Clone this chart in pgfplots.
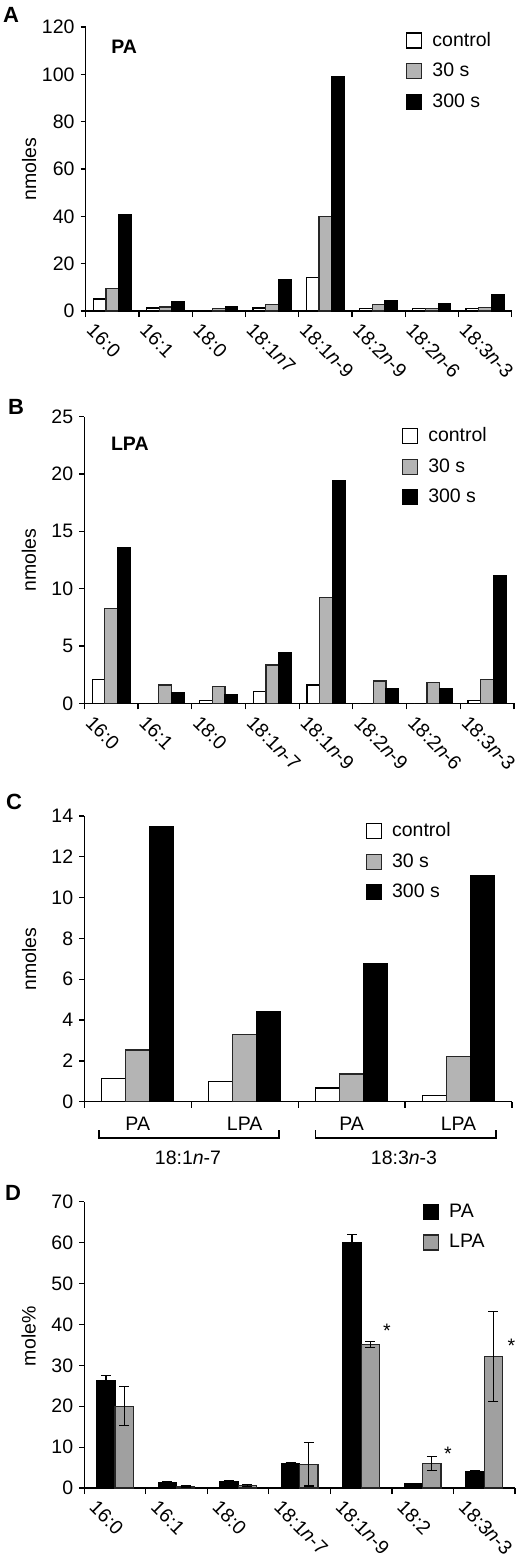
\documentclass[border=0pt]{standalone}
\usepackage{fontspec}
\setmainfont{Liberation Sans}
\usepackage{pgfplots}
\pgfplotsset{compat=1.18}
\definecolor{gA}{HTML}{B4B4B4}
\definecolor{gD}{HTML}{A0A0A0}
\newcommand{\fs}{\fontsize{19.5}{22}\selectfont}
\pgfplotsset{
  common/.style={
    scale only axis, anchor=south west,
    font=\fs,
    tick label style={font=\fs},
    label style={font=\fs},
    axis x line*=bottom, axis y line*=left,
    ybar=0pt, ymin=0,
    tick align=outside,
    major tick length=5pt, minor tick length=6pt,
    major x tick style={draw=none},
    every tick/.style={black, line width=1.2pt},
    minor tick style={black, line width=1.2pt},
    axis line style={black, line width=1.4pt},
    /pgf/number format/assume math mode=true,
    clip=false,
    yticklabel style={inner sep=2pt, xshift=-4pt},
    legend cell align=left,
    legend style={draw=none, fill=none, anchor=north west, inner sep=0pt, row sep=10pt,
      font=\fs, /tikz/every odd column/.append style={column sep=8pt}},
    legend image code/.code={\draw[##1, line width=1.2pt] (0pt,-7.5pt) rectangle (15pt,7.5pt);},
    rotlabels/.style={xticklabel style={xshift=-17pt, yshift=-6pt, rotate=-45, anchor=north west, inner sep=0pt}},
  },
  bw/.style={fill=white, draw=black, line width=1.2pt},
  bg/.style={fill=gA, draw=black!85, line width=1.2pt},
  bk/.style={fill=black, draw=black, line width=1.2pt},
}
\begin{document}
\fs
\begin{tikzpicture}
\path[use as bounding box] (0pt,0pt) rectangle (531pt,-1559pt);
% ---------------- A ----------------
\begin{axis}[common, rotlabels, at={(85.7pt,-311pt)}, width=426pt, height=284pt,
  ymax=120, ytick={0,20,...,120},
  xmin=-0.5, xmax=7.5, xtick={0,...,7}, minor xtick={-0.5,0.5,...,7.5},
  xticklabels={16:0,16:1,18:0,18:1\textit{n}7,18:1\textit{n}-9,18:2\textit{n}-9,18:2\textit{n}-6,18:3\textit{n}-3},
  bar width=12.7pt,
  ylabel={nmoles}, ylabel style={at={(axis description cs:-0.133,0.5)}, anchor=center},
  legend style={at={(axis description cs:0.752,0.99)}}]
\addplot[bw] coordinates {(0,5.1) (1,1.3) (2,0.2) (3,1.3) (4,14.1) (5,1.0) (6,1.0) (7,1.0)};
\addplot[bg] coordinates {(0,9.6) (1,1.7) (2,1.0) (3,2.7) (4,39.8) (5,2.7) (6,1.0) (7,1.4)};
\addplot[bk] coordinates {(0,40.6) (1,3.8) (2,2.0) (3,13.1) (4,99.2) (5,4.4) (6,3.1) (7,7.1)};
\legend{control,30 s,300 s}
\node[font=\fs\bfseries] at (axis description cs:0.0905,0.93) {PA};
\end{axis}
\node[font=\fontsize{22}{24}\selectfont\bfseries] at (11pt,-15pt) {A};
% ---------------- B ----------------
\begin{axis}[common, rotlabels, at={(84.3pt,-703.3pt)}, width=429.7pt, height=286.6pt,
  ymax=25, ytick={0,5,...,25},
  xmin=-0.5, xmax=7.5, xtick={0,...,7}, minor xtick={-0.5,0.5,...,7.5},
  xticklabels={16:0,16:1,18:0,18:1\textit{n}-7,18:1\textit{n}-9,18:2\textit{n}-9,18:2\textit{n}-6,18:3\textit{n}-3},
  bar width=12.7pt,
  ylabel={nmoles}, ylabel style={at={(axis description cs:-0.129,0.5)}, anchor=center},
  legend style={at={(axis description cs:0.739,0.97)}}]
\addplot[bw] coordinates {(0,2.1) (1,0) (2,0.23) (3,1.05) (4,1.6) (5,0) (6,0) (7,0.23)};
\addplot[bg] coordinates {(0,8.3) (1,1.6) (2,1.5) (3,3.34) (4,9.2) (5,1.95) (6,1.8) (7,2.1)};
\addplot[bk] coordinates {(0,13.6) (1,0.93) (2,0.76) (3,4.4) (4,19.4) (5,1.3) (6,1.3) (7,11.1)};
\legend{control,30 s,300 s}
\node[font=\fs\bfseries] at (axis description cs:0.106,0.905) {LPA};
\end{axis}
\node[font=\fontsize{22}{24}\selectfont\bfseries] at (16pt,-407pt) {B};
% ---------------- C ----------------
\begin{axis}[common, at={(84.3pt,-1101.7pt)}, width=427.7pt, height=285.7pt,
  ymax=14, ytick={0,2,...,14},
  xmin=-0.5, xmax=3.5, xtick={0,...,3}, minor xtick={-0.5,0.5,...,3.5},
  xticklabels={PA,LPA,PA,LPA}, xticklabel style={yshift=-4pt},
  bar width=24pt,
  ylabel={nmoles}, ylabel style={at={(axis description cs:-0.129,0.5)}, anchor=center},
  legend style={at={(axis description cs:0.658,0.985)}}]
\addplot[bw] coordinates {(0,1.14) (1,1.0) (2,0.67) (3,0.29)};
\addplot[bg] coordinates {(0,2.53) (1,3.3) (2,1.36) (3,2.22)};
\addplot[bk] coordinates {(0,13.5) (1,4.41) (2,6.78) (3,11.08)};
\legend{control,30 s,300 s}
\draw[line width=1.2pt] (axis cs:-0.363,-1.39) -- (axis cs:-0.363,-1.78) -- (axis cs:1.32,-1.78) -- (axis cs:1.32,-1.39);
\draw[line width=1.2pt] (axis cs:1.665,-1.39) -- (axis cs:1.665,-1.78) -- (axis cs:3.35,-1.78) -- (axis cs:3.35,-1.39);
\node at (axis cs:0.47,-2.76) {18:1\textit{n}-7};
\node at (axis cs:2.49,-2.76) {18:3\textit{n}-3};
\end{axis}
\node[font=\fontsize{22}{24}\selectfont\bfseries] at (14pt,-802pt) {C};
% ---------------- D ----------------
\begin{axis}[common, rotlabels, at={(84.3pt,-1488pt)}, width=430.7pt, height=286.3pt,
  ymax=70, ytick={0,10,...,70},
  xmin=-0.5, xmax=6.5, xtick={0,...,6}, minor xtick={-0.5,0.5,...,6.5},
  xticklabels={16:0,16:1,18:0,18:1\textit{n}-7,18:1\textit{n}-9,18:2,18:3\textit{n}-3},
  bar width=18.3pt,
  ylabel={mole\%}, ylabel style={at={(axis description cs:-0.129,0.53)}, anchor=center},
  legend style={at={(axis description cs:0.786,1.0)}},
  error bars/error bar style={black, line width=1.2pt},
  error bars/error mark=-,
  error bars/error mark options={rotate=90, black, line width=1.2pt, mark size=5pt}]
\addplot[bk, error bars/.cd, y dir=both, y explicit] coordinates {
  (0,26.2) +- (0,1.4) (1,1.4) +- (0,0.2) (2,1.5) +- (0,0.3) (3,6.0) +- (0,0.3)
  (4,60.1) +- (0,1.9) (5,1.0) +- (0,0.1) (6,4.0) +- (0,0.2)};
\addplot[fill=gD, draw=black!85, line width=1.2pt, error bars/.cd, y dir=both, y explicit] coordinates {
  (0,20.0) +- (0,4.8) (1,0.3) +- (0,0.2) (2,0.65) +- (0,0.3) (3,5.8) +- (0,5.3)
  (4,35.1) +- (0,0.8) (5,6.0) +- (0,1.7) (6,32.1) +- (0,11.0)};
\legend{PA,LPA}
\node at (axis cs:4.42,38.4) {*};
\node at (axis cs:5.41,8.3) {*};
\node at (axis cs:6.44,34.7) {*};
\end{axis}
\node[font=\fontsize{22}{24}\selectfont\bfseries] at (13pt,-1193pt) {D};
\end{tikzpicture}
\end{document}
